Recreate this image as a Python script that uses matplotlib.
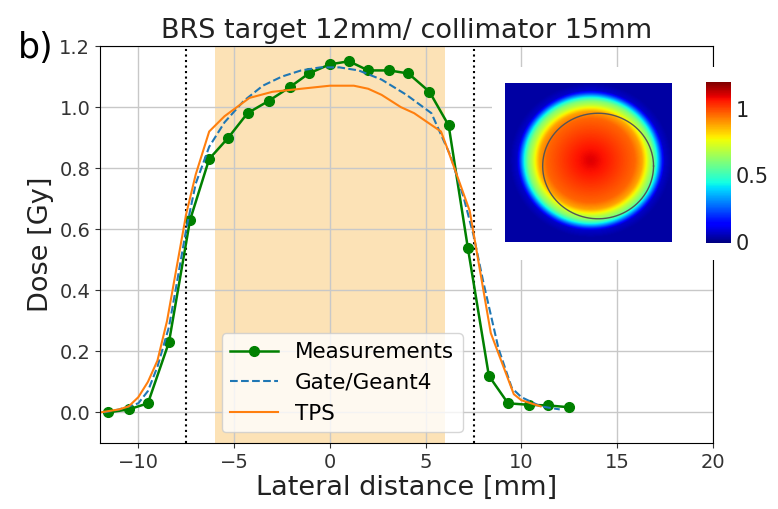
import numpy as np
import matplotlib
matplotlib.use('Agg')
import matplotlib.pyplot as plt

# measured profile (green dots)
meas_x = [-11.6, -10.5, -9.5, -8.4, -7.3, -6.3, -5.3, -4.3, -3.2, -2.1, -1.1, 0.0,
          1.0, 2.0, 3.1, 4.1, 5.2, 6.2, 7.2, 8.3, 9.3, 10.4, 11.4, 12.5]
meas_y = [0.00, 0.01, 0.03, 0.23, 0.63, 0.83, 0.90, 0.98, 1.02, 1.065, 1.11, 1.14,
          1.15, 1.12, 1.12, 1.11, 1.05, 0.94, 0.54, 0.12, 0.03, 0.025, 0.023, 0.017]

# Gate/Geant4 simulation
gate_x = [-11.8, -11.0, -10.0, -9.5, -9.0, -8.4, -8.0, -7.5, -7.0, -6.3, -5.5, -4.5,
          -3.5, -2.5, -1.5, -0.5, 0.5, 1.5, 2.7, 4.0, 5.3, 6.3, 7.0, 7.5, 8.0, 8.8,
          9.5, 10.0, 11.0, 12.0]
gate_y = [0.0, 0.01, 0.03, 0.07, 0.15, 0.28, 0.42, 0.60, 0.75, 0.87, 0.95, 1.02,
          1.07, 1.10, 1.12, 1.13, 1.13, 1.12, 1.09, 1.04, 0.98, 0.84, 0.70, 0.58, 0.43,
          0.21, 0.08, 0.05, 0.02, 0.01]

# TPS
tps_x = [-12.0, -11.0, -10.5, -10.0, -9.5, -9.0, -8.5, -7.5, -7.0, -6.3, -5.5, -4.2,
         -3.0, -1.5, 0.0, 1.25, 2.0, 2.7, 3.7, 4.4, 5.8, 6.1, 7.3, 8.4, 9.6, 10.0, 11.0]
tps_y = [0.0, 0.01, 0.02, 0.05, 0.10, 0.17, 0.30, 0.65, 0.78, 0.92, 0.97, 1.03,
         1.05, 1.06, 1.07, 1.07, 1.06, 1.04, 1.00, 0.98, 0.92, 0.87, 0.66, 0.26, 0.06, 0.04, 0.02]

# radial film profile used for the inset map (radius mm -> dose)
film_r = [0.0, 2.0, 4.0, 6.0, 7.0, 7.5, 8.0, 8.5, 9.0, 9.5, 10.0, 11.0, 20.0]
film_d = [1.10, 1.06, 1.01, 0.96, 0.88, 0.78, 0.68, 0.60, 0.45, 0.25, 0.07, 0.03, 0.03]

target_half = 6.0
collimator_half = 7.5

fig = plt.figure(figsize=(7.78, 5.09), dpi=100)
W, H = 778, 509
ax = fig.add_axes([100 / W, 1 - 443 / H, 613 / W, 397 / H])

ax.axvspan(-target_half, target_half, color='#fce2b6', lw=0, zorder=0)
ax.axvline(-collimator_half, color='k', ls=':', lw=1.5)
ax.axvline(collimator_half, color='k', ls=':', lw=1.5)
ax.plot(meas_x, meas_y, '-o', color='green', ms=7, lw=1.8, label='Measurements')
ax.plot(gate_x, gate_y, '--', color='#1f77b4', lw=1.5, label='Gate/Geant4')
ax.plot(tps_x, tps_y, '-', color='#ff7f0e', lw=1.5, label='TPS')

ax.set_xlim(-12, 20)
ax.set_ylim(-0.1, 1.2)
ax.set_xticks([-10, -5, 0, 5, 10, 15, 20])
ax.set_yticks([0.0, 0.2, 0.4, 0.6, 0.8, 1.0, 1.2])
ax.grid(True, color='#c8c8c8', lw=1)
ax.set_axisbelow(True)
ax.tick_params(labelsize=14, colors='#333333')
ax.set_xlabel('Lateral distance [mm]', fontsize=19.5, color='#222222', labelpad=2)
ax.set_ylabel('Dose [Gy]', fontsize=19.5, color='#222222', labelpad=4)
ax.set_title('BRS target 12mm/ collimator 15mm', fontsize=19.5, color='#222222', pad=6)
ax.legend(loc='lower center', bbox_to_anchor=(0.395, 0.0), fontsize=15.5, framealpha=0.8,
          handlelength=2.2)
fig.text(18 / W, 1 - 48 / H, 'b)', fontsize=25, va='center', ha='left')

# inset dose map, white backing panel
back = fig.add_axes([492 / W, 1 - 260 / H, 286 / W, 193 / H])
back.set_facecolor('white')
back.set_xticks([])
back.set_yticks([])
for s in back.spines.values():
    s.set_visible(False)

img_ax = fig.add_axes([505 / W, 1 - 242 / H, 167 / W, 159 / H])
half = 11.3
gx = np.linspace(-half, half, 200)
XX, YY = np.meshgrid(gx, gx)
rr = np.hypot(XX - 0.3, YY - 0.3)
dose_map = np.interp(rr, film_r, film_d)
im = img_ax.imshow(dose_map, cmap='jet', vmin=-0.01, vmax=1.2,
                   extent=[-half, half, -half, half], origin='lower', aspect='auto')
theta = np.linspace(0, 2 * np.pi, 200)
img_ax.plot(1.3 + collimator_half * np.cos(theta), -0.5 + collimator_half * np.sin(theta),
            color='#555555', lw=1)
img_ax.set_xlim(-half, half)
img_ax.set_ylim(-half, half)
img_ax.axis('off')

cax = fig.add_axes([706 / W, 1 - 243 / H, 25 / W, 161 / H])
cb = fig.colorbar(im, cax=cax, ticks=[0, 0.5, 1])
cb.ax.set_yticklabels(['0', '0.5', '1'])
cb.ax.tick_params(labelsize=15, length=0, colors='#222222')
cb.outline.set_visible(False)

fig.savefig('out.png', dpi=100)
